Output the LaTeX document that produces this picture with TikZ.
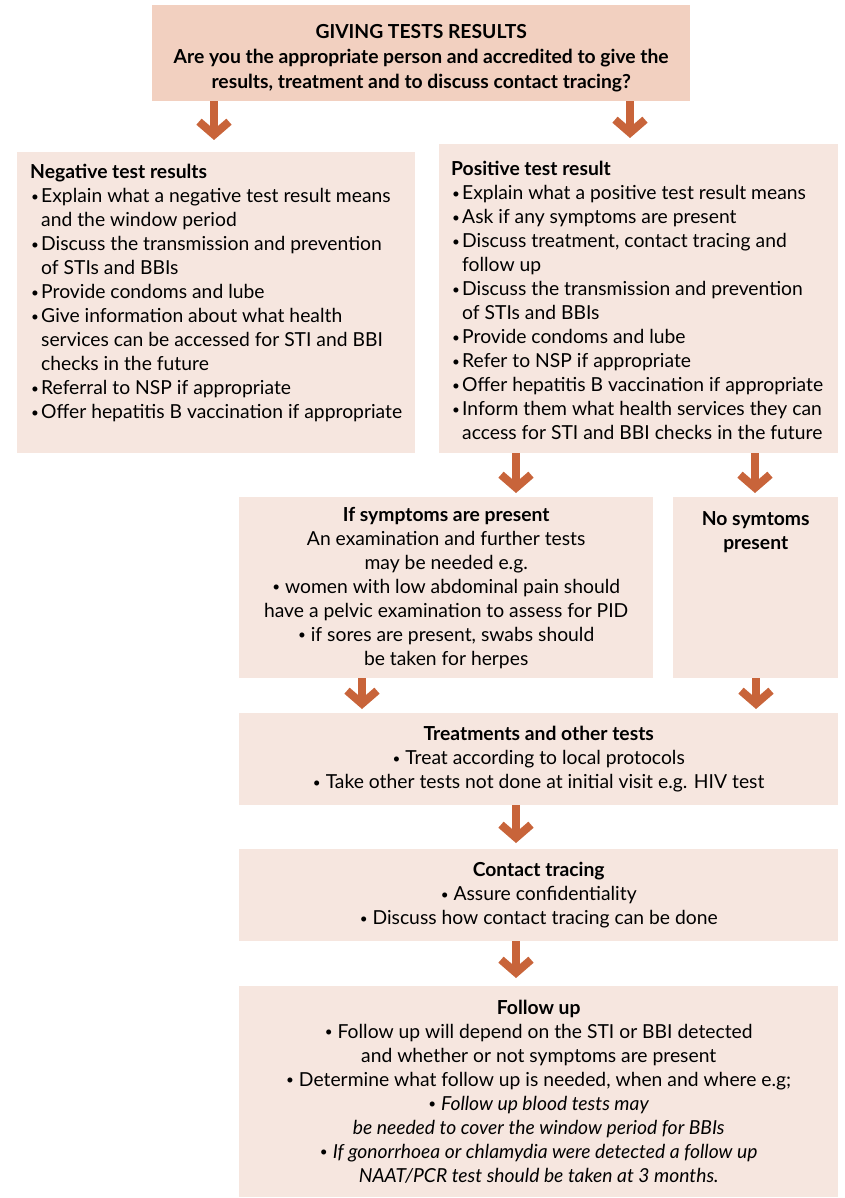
\documentclass[tikz,border=0pt]{standalone}
\usepackage{fontspec}
\setmainfont{Lato}
\usetikzlibrary{arrows.meta,positioning}
\definecolor{headfill}{HTML}{F2D0C0}
\definecolor{cardfill}{HTML}{F6E6DF}
\definecolor{arrowc}{HTML}{C8643A}
\newcommand{\smallbul}{\raisebox{1.5pt}{\scalebox{0.7}{\textbullet}}}
\newcommand{\bul}{\par\hangindent=11pt\hangafter=1\noindent\hbox to 11pt{\kern1pt\smallbul\hfil}}

\begin{document}
\begin{tikzpicture}[x=1pt, y=-1pt,
  every node/.style={font=\fontsize{19.3}{24}\selectfont},
  card/.style={fill=cardfill, anchor=north west, inner sep=0pt},
  ccard/.style={card, align=center},
  arr/.style={arrowc, line width=8pt, -{Straight Barb[length=13pt,width=30pt]}}]
\useasboundingbox (0,0) rectangle (845,1198);
% Header
\node[card, fill=headfill, align=center, minimum width=538pt, minimum height=96pt, font=\fontsize{19.3}{25}\selectfont\bfseries] (top) at (152,5)
  {\rule{0pt}{24pt}GIVING TESTS RESULTS\\Are you the appropriate person and accredited to give the\\results, treatment and to discuss contact tracing?};
% Two result boxes
\node[card] (neg) at (17,152) {\parbox[t][301pt][t]{398pt}{\leftskip=13pt\rightskip=0pt plus 1fil\vspace*{12pt}%
  \noindent\textbf{Negative test results}
  \bul Explain what a negative test result means\\and the window period
  \bul Discuss the transmission and prevention\\of STIs and BBIs
  \bul Provide condoms and lube
  \bul Give information about what health\\services can be accessed for STI and BBI\\checks in the future
  \bul Referral to NSP if appropriate
  \bul Offer hepatitis B vaccination if appropriate}};
\node[card] (pos) at (439,144) {\parbox[t][309pt][t]{399pt}{\leftskip=12pt\rightskip=0pt plus 1fil\vspace*{17pt}%
  \noindent\textbf{Positive test result}
  \bul Explain what a positive test result means
  \bul Ask if any symptoms are present
  \bul Discuss treatment, contact tracing and\\follow up
  \bul Discuss the transmission and prevention\\of STIs and BBIs
  \bul Provide condoms and lube
  \bul Refer to NSP if appropriate
  \bul Offer hepatitis B vaccination if appropriate
  \bul Inform them what health services they can\\access for STI and BBI checks in the future}};
% Symptoms
\node[ccard, minimum width=414pt, minimum height=181pt] (sym) at (239,497)
  {\textbf{If symptoms are present}\\An examination and further tests\\may be needed e.g.\\\smallbul{} women with low abdominal pain should\\have a pelvic examination to assess for PID\\\smallbul{} if sores are present, swabs should\\be taken for herpes};
\node[card] (nosym) at (673,497) {\parbox[t][181pt][t]{165pt}{\centering\vspace*{14pt}%
  \textbf{No symtoms}\\\textbf{present}}};
% Lower column
\node[ccard, minimum width=599pt, minimum height=92pt] (treat) at (239,713)
  {\textbf{Treatments and other tests}\\\smallbul{} Treat according to local protocols\\\smallbul{} Take other tests not done at initial visit e.g. HIV test};
\node[ccard, minimum width=599pt, minimum height=92pt] (contact) at (239,849)
  {\textbf{Contact tracing}\\\smallbul{} Assure confidentiality\\\smallbul{} Discuss how contact tracing can be done};
\node[ccard, minimum width=599pt, minimum height=211pt] (follow) at (239,986)
  {\textbf{Follow up}\\\smallbul{} Follow up will depend on the STI or BBI detected\\and whether or not symptoms are present\\\smallbul{} Determine what follow up is needed, when and where e.g;\\\smallbul{} \textit{Follow up blood tests may}\\\textit{be needed to cover the window period for BBIs}\\\smallbul{} \textit{If gonorrhoea or chlamydia were detected a follow up}\\\textit{NAAT/PCR test should be taken at 3 months.}};
% Arrows
\draw[arr, shorten >=12pt] (top.south -| 214,0) -- (neg.north -| 214,0);
\draw[arr, shorten >=6pt] (top.south -| 630,0) -- (pos.north -| 630,0);
\draw[arr, shorten >=4pt] (pos.south -| 516,0) -- (sym.north -| 516,0);
\draw[arr, shorten >=4pt] (pos.south -| 755,0) -- (nosym.north -| 755,0);
\draw[arr, shorten >=4pt] (sym.south -| 362,0) -- (treat.north -| 362,0);
\draw[arr, shorten >=4pt] (nosym.south -| 756,0) -- (treat.north -| 756,0);
\draw[arr, shorten >=6pt] (treat.south -| 516,0) -- (contact.north -| 516,0);
\draw[arr, shorten >=8pt] (contact.south -| 516,0) -- (follow.north -| 516,0);
\end{tikzpicture}
\end{document}
